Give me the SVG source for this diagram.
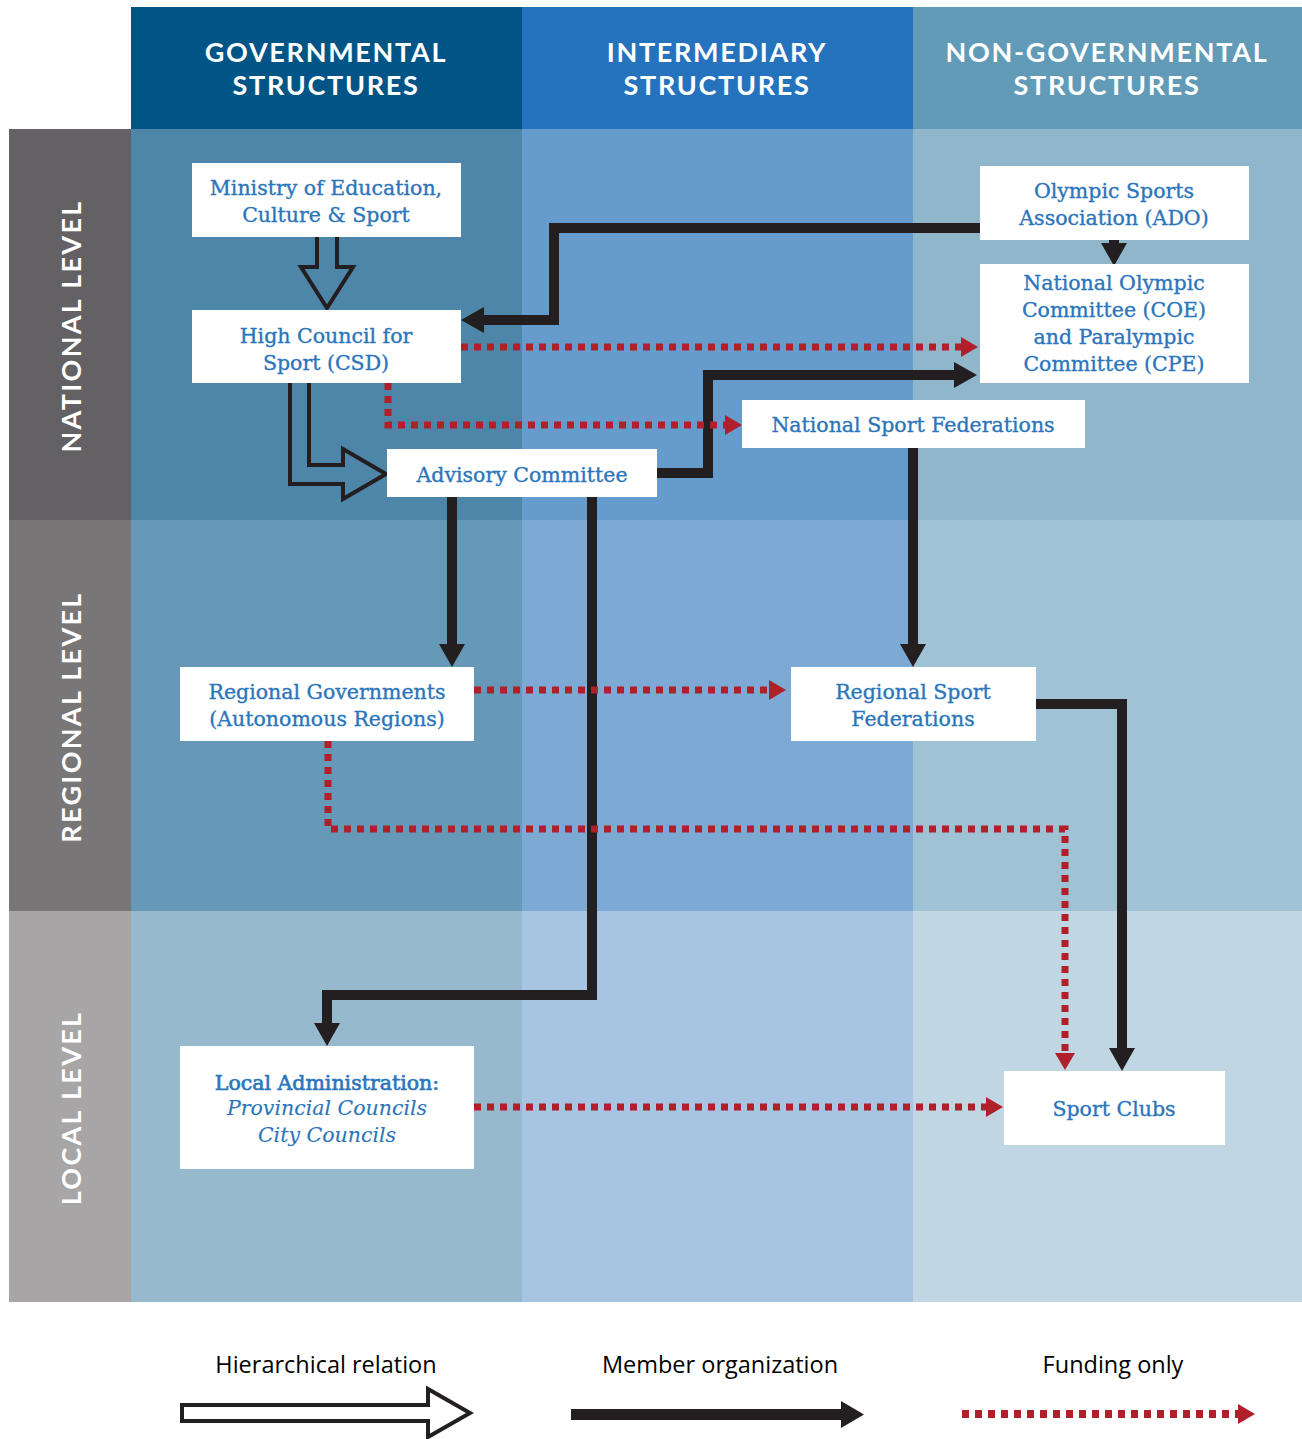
<svg xmlns="http://www.w3.org/2000/svg" width="1302" height="1439" viewBox="0 0 1302 1439">
<style>
.hdr{font-family:Lato,"Open Sans",sans-serif;font-weight:700;font-size:27px;fill:#fff;letter-spacing:1.7px;text-anchor:middle}
.side{font-family:Lato,"Open Sans",sans-serif;font-weight:700;font-size:27px;fill:#fff;letter-spacing:2.3px;text-anchor:middle}
.box{fill:#fff}
.nt{font-family:"DejaVu Serif","Liberation Serif",serif;font-size:20.5px;fill:#2B75BB;stroke:#2B75BB;stroke-width:0.35;text-anchor:middle}
.it{font-style:italic;stroke-width:0.1}
.bd{stroke-width:0.65}
.leg{font-family:"Open Sans",Lato,sans-serif;font-size:23.5px;fill:#000;text-anchor:middle}
.blk{fill:none;stroke:#231F20;stroke-width:10;stroke-linejoin:miter}
.red{fill:none;stroke:#B01F2A;stroke-width:7;stroke-dasharray:7 6}
.hol{fill:none;stroke:#231F20;stroke-width:4;stroke-linejoin:miter}
</style>
<defs>
<marker id="mb" markerUnits="userSpaceOnUse" markerWidth="24" markerHeight="26" refX="0" refY="13" orient="auto" overflow="visible"><path d="M0,0 L23,13 L0,26 Z" fill="#231F20"/></marker>
<marker id="mr" markerUnits="userSpaceOnUse" markerWidth="18" markerHeight="20" refX="0" refY="10" orient="auto" overflow="visible"><path d="M0,0 L17,10 L0,20 Z" fill="#B01F2A"/></marker>
</defs>
<rect width="1302" height="1439" fill="#fff"/>
<g id="background">
<rect x="131" y="7" width="391" height="122" fill="#005586"/>
<rect x="522" y="7" width="391" height="122" fill="#2673BD"/>
<rect x="913" y="7" width="389" height="122" fill="#629BB8"/>
<rect x="9" y="129" width="122" height="391" fill="#636163"/>
<rect x="9" y="520" width="122" height="391" fill="#787677"/>
<rect x="9" y="911" width="122" height="391" fill="#A7A5A6"/>
<rect x="131" y="129" width="391" height="391" fill="#4D86A9"/>
<rect x="522" y="129" width="391" height="391" fill="#669CCB"/>
<rect x="913" y="129" width="389" height="391" fill="#8FB6CA"/>
<rect x="131" y="520" width="391" height="391" fill="#6699B8"/>
<rect x="522" y="520" width="391" height="391" fill="#7CAAD4"/>
<rect x="913" y="520" width="389" height="391" fill="#A0C2D5"/>
<rect x="131" y="911" width="391" height="391" fill="#97B9CE"/>
<rect x="522" y="911" width="391" height="391" fill="#A7C5E2"/>
<rect x="913" y="911" width="389" height="391" fill="#C0D7E3"/>
</g>
<g id="headers">
<text class="hdr" x="326" y="62">GOVERNMENTAL</text>
<text class="hdr" x="326" y="95">STRUCTURES</text>
<text class="hdr" x="717" y="62">INTERMEDIARY</text>
<text class="hdr" x="717" y="95">STRUCTURES</text>
<text class="hdr" x="1107" y="62">NON-GOVERNMENTAL</text>
<text class="hdr" x="1107" y="95">STRUCTURES</text>
<text class="side" transform="translate(81,326) rotate(-90)">NATIONAL LEVEL</text>
<text class="side" transform="translate(81,717) rotate(-90)">REGIONAL LEVEL</text>
<text class="side" transform="translate(81,1108) rotate(-90)">LOCAL LEVEL</text>
</g>
<g id="connectors">
<path class="hol" d="M317,237 V267 H301 L327,308 L353,267 H337 V237"/>
<path class="hol" d="M290,383 V484 H343 V499 L386,474 L343,449 V465 H309 V383"/>
<path class="blk" d="M980,228 H554 V320 H484" marker-end="url(#mb)"/>
<path class="blk" d="M657,473 H708 V375 H954" marker-end="url(#mb)"/>
<path class="blk" d="M1114,240 V243" marker-end="url(#mb)"/>
<path class="blk" d="M452,497 V644" marker-end="url(#mb)"/>
<path class="blk" d="M592,497 V995 H327 V1023" marker-end="url(#mb)"/>
<path class="blk" d="M913,448 V644" marker-end="url(#mb)"/>
<path class="blk" d="M1036,704 H1122 V1048" marker-end="url(#mb)"/>
<path class="red" d="M461,347 H961" marker-end="url(#mr)"/>
<path class="red" d="M388,383 V425 H725" marker-end="url(#mr)"/>
<path class="red" d="M474,690 H769" marker-end="url(#mr)"/>
<path class="red" d="M328,741 V829 H1065 V1053" marker-end="url(#mr)"/>
<path class="red" d="M474,1107 H986" marker-end="url(#mr)"/>
</g>
<g id="ministry"><rect class="box" x="192" y="163" width="269" height="74"/><text class="nt" x="326" y="195">Ministry of Education,</text><text class="nt" x="326" y="222">Culture &amp; Sport</text></g>
<g id="high-council"><rect class="box" x="192" y="310" width="269" height="73"/><text class="nt" x="326" y="343">High Council for</text><text class="nt" x="326" y="370">Sport (CSD)</text></g>
<g id="advisory"><rect class="box" x="387" y="449" width="270" height="48"/><text class="nt" x="522" y="482">Advisory Committee</text></g>
<g id="ado"><rect class="box" x="980" y="166" width="269" height="74"/><text class="nt" x="1114" y="198">Olympic Sports</text><text class="nt" x="1114" y="225">Association (ADO)</text></g>
<g id="noc"><rect class="box" x="980" y="264" width="269" height="119"/><text class="nt" x="1114" y="290">National Olympic</text><text class="nt" x="1114" y="317">Committee (COE)</text><text class="nt" x="1114" y="344">and Paralympic</text><text class="nt" x="1114" y="371">Committee (CPE)</text></g>
<g id="nsf"><rect class="box" x="742" y="400" width="343" height="48"/><text class="nt" x="913" y="432">National Sport Federations</text></g>
<g id="regional-gov"><rect class="box" x="180" y="667" width="294" height="74"/><text class="nt" x="327" y="699">Regional Governments</text><text class="nt" x="327" y="726">(Autonomous Regions)</text></g>
<g id="rsf"><rect class="box" x="791" y="667" width="245" height="74"/><text class="nt" x="913" y="699">Regional Sport</text><text class="nt" x="913" y="726">Federations</text></g>
<g id="local"><rect class="box" x="180" y="1046" width="294" height="123"/><text class="nt bd" x="327" y="1090">Local Administration:</text><text class="nt it" x="327" y="1115">Provincial Councils</text><text class="nt it" x="327" y="1142">City Councils</text></g>
<g id="clubs"><rect class="box" x="1004" y="1071" width="221" height="74"/><text class="nt" x="1114" y="1116">Sport Clubs</text></g>
<g id="legend">
<text class="leg" x="326" y="1373">Hierarchical relation</text>
<text class="leg" x="720" y="1373">Member organization</text>
<text class="leg" x="1113" y="1373">Funding only</text>
<path d="M182,1405 H428 V1389 L470,1413 L428,1437 V1421 H182 Z" fill="#fff" stroke="#231F20" stroke-width="4"/>
<path d="M571,1414.5 H841" stroke="#231F20" stroke-width="11"/>
<path d="M841,1401 L864,1414.5 L841,1428 Z" fill="#231F20"/>
<path d="M962,1414 H1238" stroke="#B01F2A" stroke-width="8" stroke-dasharray="7 6" fill="none"/>
<path d="M1238,1404 L1255,1414 L1238,1424 Z" fill="#B01F2A"/>
</g>
</svg>
